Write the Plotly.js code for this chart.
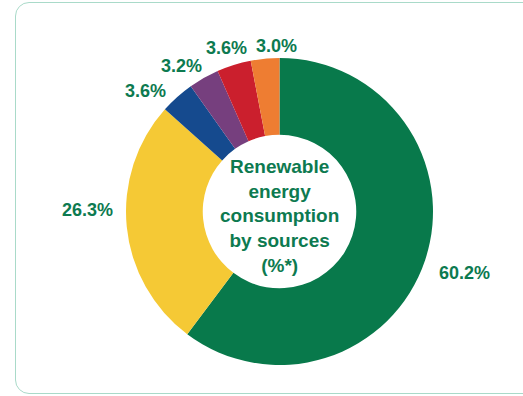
<!DOCTYPE html>
<html>
<head>
<meta charset="utf-8">
<script src="https://cdn.plot.ly/plotly-3.0.1.min.js"></script>
<style>
html,body{margin:0;padding:0;background:#fff;overflow:hidden;}
#frame{position:absolute;left:15px;top:2px;width:620px;height:392px;border:1px solid #a9dac9;border-radius:14px;box-sizing:border-box;}
#chart{position:absolute;left:0;top:0;width:523px;height:396px;}
</style>
</head>
<body>
<div id="frame"></div>
<div id="chart"></div>
<script>
const sources = ["Source A", "Source B", "Source C", "Source D", "Source E", "Source F"];
const shares = [60.2, 26.3, 3.6, 3.2, 3.6, 3.0];
const labelsText = ["60.2%", "26.3%", "3.6%", "3.2%", "3.6%", "3.0%"];
const colors = ["#08794b", "#f5c935", "#154a8e", "#763f7e", "#cb1f2d", "#ee7d32"];
const centerTitle = "Renewable<br>energy<br>consumption<br>by sources<br>(%*)";

// label placement styling (angle nudge in degrees, distance from centre in px)
const labelAngleNudge = [-0.4, 6.4, -5.9, -4.25, -0.5, 4.4];
const labelRadius = [195, 192.5, 180.5, 176, 173, 166.5];

const W = 523, H = 396;
const cx = 279.5, cy = 211.5, r = 153.5;

const data = [{
  type: "pie",
  labels: sources,
  values: shares,
  textinfo: "none",
  hoverinfo: "skip",
  sort: false,
  direction: "clockwise",
  rotation: 0,
  hole: 0.5,
  marker: {colors: colors, line: {width: 0}},
  domain: {x: [(cx - r) / W, (cx + r) / W], y: [1 - (cy + r) / H, 1 - (cy - r) / H]}
}];

const labelFont = {family: "Liberation Sans, Arial, sans-serif", size: 18, color: "#0d7a50", weight: "bold"};
const total = shares.reduce((a, b) => a + b, 0);
const annotations = [];
let cum = 0;
shares.forEach((v, i) => {
  const mid = (cum + v / 2) / total * 360 + labelAngleNudge[i];
  cum += v;
  const a = mid * Math.PI / 180;
  const px = cx + labelRadius[i] * Math.sin(a);
  const py = cy - labelRadius[i] * Math.cos(a) + 1;
  annotations.push({
    text: labelsText[i],
    x: px / W, y: 1 - py / H,
    xref: "paper", yref: "paper",
    xanchor: "center", yanchor: "middle",
    showarrow: false,
    font: labelFont
  });
});
annotations.push({
  text: centerTitle,
  x: cx / W, y: 1 - (cy + 4) / H,
  xref: "paper", yref: "paper",
  xanchor: "center", yanchor: "middle",
  showarrow: false,
  font: {family: "Liberation Sans, Arial, sans-serif", size: 19, color: "#0d7a50", weight: "bold"}
});

const layout = {
  width: W, height: H,
  margin: {l: 0, r: 0, t: 0, b: 0},
  paper_bgcolor: "rgba(0,0,0,0)",
  plot_bgcolor: "rgba(0,0,0,0)",
  showlegend: false,
  annotations: annotations
};

Plotly.newPlot("chart", data, layout, {displayModeBar: false, staticPlot: true});
</script>
</body>
</html>
